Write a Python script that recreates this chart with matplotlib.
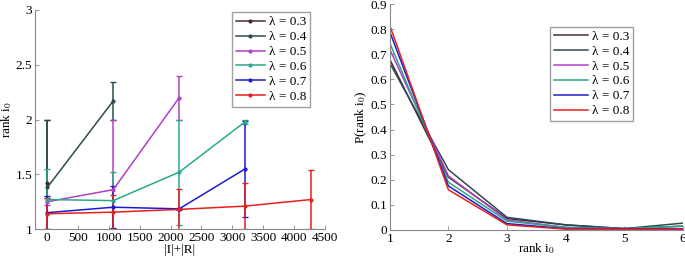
import matplotlib
matplotlib.use("Agg")
import matplotlib.pyplot as plt
from matplotlib.lines import Line2D
import numpy as np

plt.rcParams['font.family'] = ['Liberation Serif', 'DejaVu Serif']
plt.rcParams['mathtext.fontset'] = 'stix'

labels = ['λ = 0.3', 'λ = 0.4', 'λ = 0.5', 'λ = 0.6', 'λ = 0.7', 'λ = 0.8']
colors = ['#4a2c30', '#2c4a50', '#b040c8', '#2aa88a', '#1c1cd0', '#e8201c']

# Left panel: mean rank vs |I|+|R|
x_sizes = [0, 1070, 2140, 3210, 4280]
left_means = [
    [1.42],
    [1.38, 2.17],
    [1.25, 1.36, 2.20],
    [1.27, 1.26, 1.52, 1.98],
    [1.15, 1.20, 1.185, 1.55],
    [1.14, 1.155, 1.18, 1.21, 1.27],
]
left_errs = [
    [0.58],
    [0.62, 0.17],
    [0.03, 0.64, 0.20],
    [0.28, 0.26, 0.48, 0.02],
    [0.15, 0.19, 0.01, 0.44],
    [0.14, 0.155, 0.19, 0.21, 0.27],
]

# Right panel: distribution of rank
ranks = [1, 2, 3, 4, 5, 6]
right_probs = [
    [0.68, 0.21, 0.045, 0.020, 0.005, 0.015],
    [0.665, 0.24, 0.050, 0.020, 0.005, 0.027],
    [0.72, 0.215, 0.040, 0.010, 0.005, 0.005],
    [0.745, 0.19, 0.035, 0.010, 0.005, 0.015],
    [0.79, 0.175, 0.025, 0.005, 0.005, 0.003],
    [0.815, 0.16, 0.020, 0.003, 0.003, 0.002],
]

FS = 9.5

fig = plt.figure(figsize=(6.85, 2.56), dpi=100)
ax1 = fig.add_axes([0.051, 0.105, 0.423, 0.856])
ax2 = fig.add_axes([0.569, 0.102, 0.428, 0.882])

for lab, c, m, e in zip(labels, colors, left_means, left_errs):
    xs = x_sizes[:len(m)]
    ax1.errorbar(xs, m, yerr=e, color=c, lw=1.1, marker='.', ms=4,
                 capsize=2.5, elinewidth=1.1)
handles1 = [Line2D([], [], color=c, lw=1.1, marker='.', ms=4) for c in colors]
ax1.set_xlim(-200, 4500)
ax1.set_ylim(1, 3)
ax1.set_xticks(np.arange(0, 4501, 500))
ax1.set_yticks([1, 1.5, 2, 2.5, 3])
ax1.set_yticklabels(['1', '1.5', '2', '2.5', '3'])
ax1.set_xlabel('|I|+|R|', fontsize=FS, labelpad=0)
ax1.set_ylabel('rank i$_0$', fontsize=FS, labelpad=1)
ax1.legend(handles1, labels, loc='upper right', bbox_to_anchor=(0.95, 0.99),
           fontsize=FS, frameon=True, fancybox=False, edgecolor='#888888',
           handlelength=2.2, borderpad=0.3, labelspacing=0.2,
           handletextpad=0.3, borderaxespad=0)

for lab, c, p in zip(labels, colors, right_probs):
    ax2.plot(ranks, p, color=c, lw=1.1, label=lab)
ax2.set_xlim(1, 6)
ax2.set_ylim(0, 0.9)
ax2.set_xticks(ranks)
ax2.set_yticks(np.arange(0, 0.91, 0.1))
ax2.set_yticklabels(['0'] + ['%.1f' % v for v in np.arange(0.1, 0.91, 0.1)])
ax2.set_xlabel('rank i$_0$', fontsize=FS, labelpad=-2.5)
ax2.set_ylabel('P(rank i$_0$)', fontsize=FS, labelpad=1)
ax2.legend(loc='upper right', bbox_to_anchor=(0.83, 0.90), fontsize=FS,
           frameon=True, fancybox=False, edgecolor='#888888',
           handlelength=2.6, borderpad=0.3, labelspacing=0.2,
           handletextpad=0.3, borderaxespad=0)

for ax in (ax1, ax2):
    for s in ('top', 'right'):
        ax.spines[s].set_visible(False)
    for s in ('left', 'bottom'):
        ax.spines[s].set_color('#888888')
        ax.spines[s].set_linewidth(0.8)
    ax.tick_params(direction='in', length=3, width=0.6, color='#888888',
                   labelsize=FS, pad=2)

fig.savefig('out.png', dpi=100)
